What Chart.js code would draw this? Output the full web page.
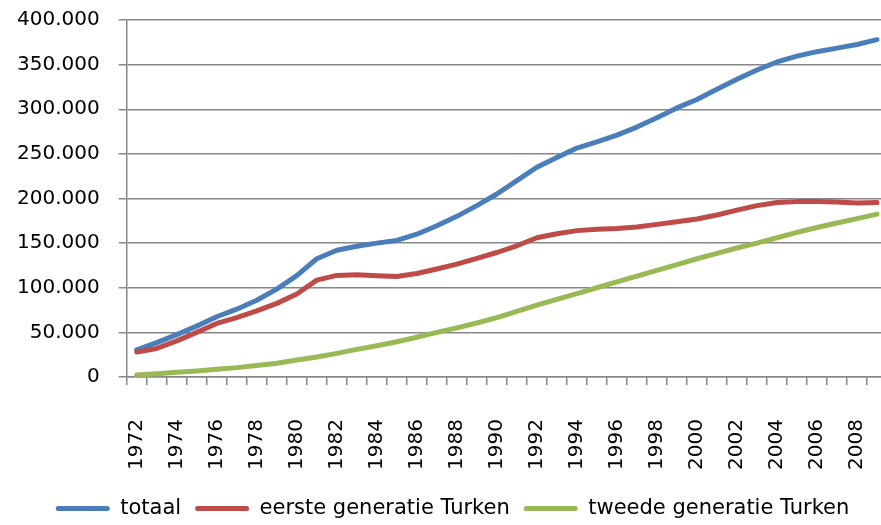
<!DOCTYPE html>
<html>
<head>
<meta charset="utf-8">
<script src="https://cdn.jsdelivr.net/npm/chart.js@4/dist/chart.umd.min.js"></script>
<style>
html,body{margin:0;padding:0;overflow:hidden;background:#fff;width:881px;height:525px}
#wrap{position:absolute;left:0;top:0;width:887px;height:529px}
</style>
</head>
<body>
<div id="wrap"><canvas id="c" width="887" height="529"></canvas></div>
<script>
const years = ['1972','1973','1974','1975','1976','1977','1978','1979','1980','1981','1982','1983','1984','1985','1986','1987','1988','1989','1990','1991','1992','1993','1994','1995','1996','1997','1998','1999','2000','2001','2002','2003','2004','2005','2006','2007','2008','2009'];
const totaal = [30500,38500,47500,57000,67500,76000,86000,98500,113500,132500,142000,146500,150000,153000,160000,169500,180000,192000,205000,220000,235000,246000,256500,263500,271000,280000,290500,301500,311000,322500,333500,344000,353000,359500,364500,368500,372500,378000];
const eersteGeneratie = [28000,32000,40500,50000,60000,66500,74000,82500,93000,108500,113800,114500,113500,112500,116000,121000,126500,133000,139500,147000,156000,160500,164000,165500,166500,168000,171000,174000,177000,181500,187000,192000,195500,196500,196500,196000,195000,195500];
const tweedeGeneratie = [2200,3700,5200,6700,8600,10500,13000,15500,19000,22500,26500,31000,35000,39500,44500,50000,55000,60500,66500,73500,80500,87000,93500,100000,106500,113000,119500,126000,132500,138500,144500,150000,156000,162000,167500,172500,177500,182500];
const xTickLabels = ['1972','1974','1976','1978','1980','1982','1984','1986','1988','1990','1992','1994','1996','1998','2000','2002','2004','2006','2008'];
const yTickValues = [0,50000,100000,150000,200000,250000,300000,350000,400000];
const seriesNames = ['totaal','eerste generatie Turken','tweede generatie Turken'];
const seriesColors = ['#4A7EBB','#BE4B48','#98B954'];

function fmt(v){ return String(v).replace(/\B(?=(\d{3})+(?!\d))/g, '.'); }
function noPad(s){ s.paddingLeft = 0; s.paddingRight = 0; s.paddingTop = 0; s.paddingBottom = 0; }

Chart.defaults.font.family = "'DejaVu Sans', sans-serif";
Chart.defaults.color = '#000';

const seriesData = [totaal, eersteGeneratie, tweedeGeneratie];
const datasets = seriesData.map((d, i) => ({
  label: seriesNames[i],
  data: d,
  borderColor: seriesColors[i],
  backgroundColor: seriesColors[i],
  borderWidth: 5,
  pointRadius: 0,
  tension: 0,
  borderCapStyle: 'round',
  borderJoinStyle: 'round',
  order: 3 - i
}));

new Chart(document.getElementById('c'), {
  type: 'line',
  data: { labels: years, datasets: datasets },
  options: {
    responsive: false,
    animation: false,
    devicePixelRatio: 1,
    layout: { padding: { left: 18, top: 20, right: 0, bottom: 0 } },
    plugins: {
      tooltip: { enabled: false },
      legend: {
        position: 'bottom',
        labels: {
          boxWidth: 54,
          boxHeight: 5,
          padding: 14,
          font: { size: 21 },
          useBorderRadius: true,
          borderRadius: 2.5,
          sort: (a, b) => a.datasetIndex - b.datasetIndex,
          generateLabels(chart) {
            return Chart.defaults.plugins.legend.labels.generateLabels(chart).map(l => Object.assign(l, { lineWidth: 0 }));
          }
        }
      }
    },
    scales: {
      x: {
        offset: true,
        grid: { offset: true, drawOnChartArea: false, drawTicks: true, tickLength: 8, color: '#878787', lineWidth: 1.5 },
        border: { color: '#878787', width: 1.5 },
        ticks: {
          autoSkip: false, maxRotation: 90, minRotation: 90, padding: 34,
          font: { size: 20 },
          callback(v, i) { const l = years[i]; return xTickLabels.includes(l) ? l : ''; }
        },
        afterFit(s) { s.height = 107; noPad(s); }
      },
      y: {
        min: 0, max: 400000,
        afterBuildTicks(s) { s.ticks = yTickValues.map(v => ({ value: v })); },
        grid: { color: '#878787', lineWidth: 1.5, tickLength: 8 },
        border: { color: '#878787', width: 1.5 },
        ticks: { padding: 19, font: { size: 20 }, callback: v => fmt(v) },
        afterFit(s) { s.width = 108.7; noPad(s); }
      }
    }
  }
});
</script>
</body>
</html>
